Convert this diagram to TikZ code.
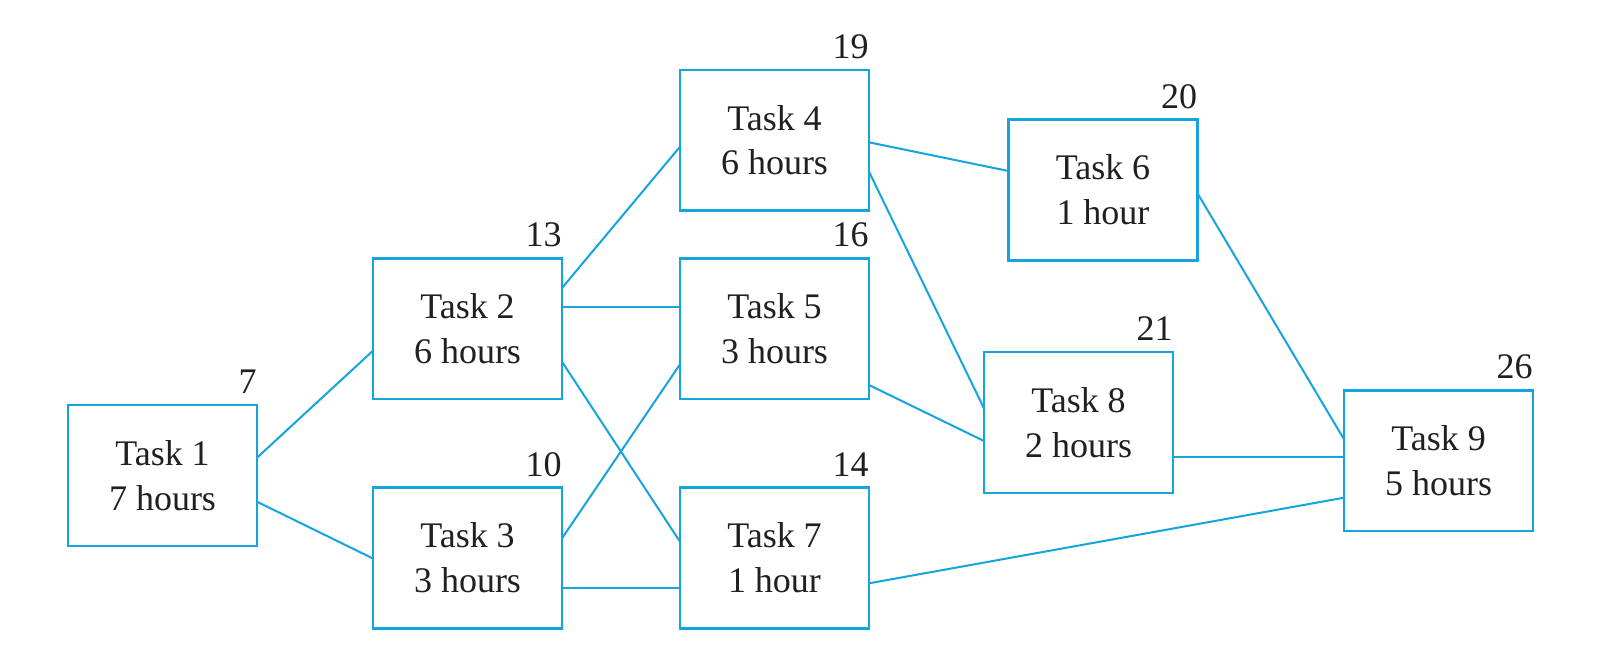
\documentclass[tikz,border=0pt]{standalone}
\usepackage{fontspec}
\setmainfont{Liberation Serif}
\usetikzlibrary{calc}
\definecolor{taskblue}{RGB}{20,165,222}
\definecolor{taskink}{RGB}{35,31,32}
\begin{document}
\begin{tikzpicture}[x=0.5pt,y=-0.5pt,
  taskbox/.style={draw=taskblue,line width=1.2pt,minimum width=94.5pt,minimum height=70.35pt,
    inner sep=0pt,outer sep=0pt,align=center,text=taskink,font=\fontsize{18}{22.35}\selectfont},
  numlabel/.style={font=\fontsize{18}{22}\selectfont,text=taskink,inner sep=0pt,anchor=base east},
  link/.style={draw=taskblue,line width=1pt}]
\useasboundingbox[fill=white] (0,0) rectangle (1600,661);
% boxes
\node[taskbox] (t1) at (162.5,475.5) {Task 1\\7 hours};
\node[taskbox] (t2) at (467.5,328.7) {Task 2\\6 hours};
\node[taskbox] (t3) at (467.5,558) {Task 3\\3 hours};
\node[taskbox] (t4) at (774.5,140.3) {Task 4\\6 hours};
\node[taskbox] (t5) at (774.5,328.7) {Task 5\\3 hours};
\node[taskbox] (t7) at (774.5,558) {Task 7\\1 hour};
\node[taskbox] (t6) at (1103,190) {Task 6\\1 hour};
\node[taskbox] (t8) at (1078.5,422.4) {Task 8\\2 hours};
\node[taskbox] (t9) at (1438.5,460.8) {Task 9\\5 hours};
% numbers
\node[numlabel] (n1) at ($(t1.north east)+(0,-11.5)$) {7};
\node[numlabel] (n2) at ($(t2.north east)+(0,-11.5)$) {13};
\node[numlabel] (n3) at ($(t3.north east)+(0,-11.5)$) {10};
\node[numlabel] (n4) at ($(t4.north east)+(0,-11.5)$) {19};
\node[numlabel] (n5) at ($(t5.north east)+(0,-11.5)$) {16};
\node[numlabel] (n7) at ($(t7.north east)+(0,-11.5)$) {14};
\node[numlabel] (n6) at ($(t6.north east)+(0,-11.5)$) {20};
\node[numlabel] (n8) at ($(t8.north east)+(0,-11.5)$) {21};
\node[numlabel] (n9) at ($(t9.north east)+(0,-11.5)$) {26};
% connectors
\draw[link] ($(t1.east)+(0,-17.8)$) -- ($(t2.west)+(0,22)$);
\draw[link] ($(t1.east)+(0,26.2)$) -- ($(t3.west)+(0,0.5)$);
\draw[link] ($(t2.east)+(0,-40.7)$) -- ($(t4.west)+(0,6.4)$);
\draw[link] ($(t2.east)+(0,-22)$) -- ($(t5.west)+(0,-22)$);
\draw[link] ($(t2.east)+(0,33)$) -- ($(t7.west)+(0,-16.3)$);
\draw[link] ($(t3.east)+(0,-19.7)$) -- ($(t5.west)+(0,35.6)$);
\draw[link] ($(t3.east)+(0,29.7)$) -- ($(t7.west)+(0,29.7)$);
\draw[link] ($(t4.east)+(0,2)$) -- ($(t6.west)+(0,-19)$);
\draw[link] ($(t4.east)+(0,31.4)$) -- ($(t8.west)+(0,-14)$);
\draw[link] ($(t5.east)+(0,56.3)$) -- ($(t8.west)+(0,18.6)$);
\draw[link] ($(t6.east)+(0,3.3)$) -- ($(t9.west)+(0,-21.5)$);
\draw[link] ($(t8.east)+(0,34.3)$) -- ($(t9.west)+(0,-4.1)$);
\draw[link] ($(t7.east)+(0,25.3)$) -- ($(t9.west)+(0,36.9)$);
\end{tikzpicture}
\end{document}
